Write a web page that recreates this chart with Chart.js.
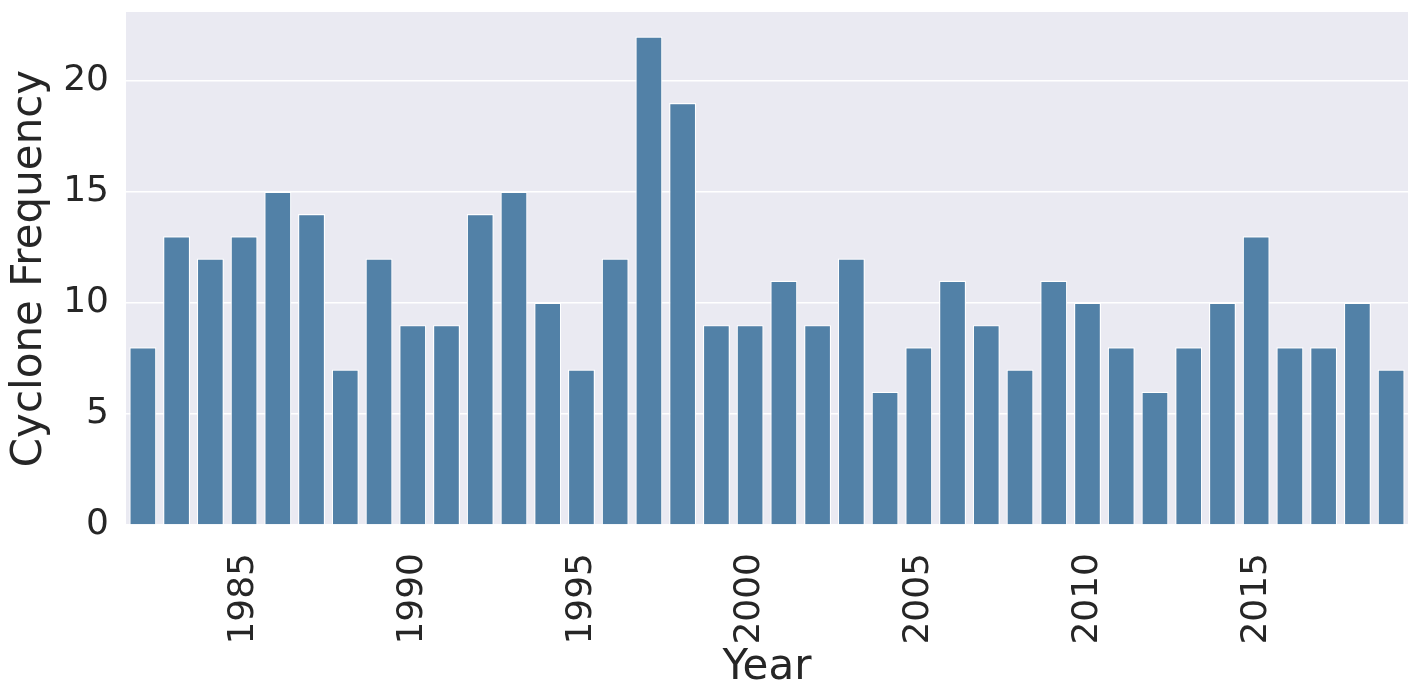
<!DOCTYPE html>
<html lang="en">
<head>
    <meta charset="UTF-8">
    <title>Cyclone Frequency by Year</title>
    <script src="https://cdn.jsdelivr.net/npm/chart.js"></script>
    <style>
        body {
            margin: 0;
            background: #ffffff;
        }
        #wrap {
            width: 1420px;
            height: 700px;
        }
    </style>
</head>
<body>
    <div id="wrap"><canvas id="barChart"></canvas></div>

    <script>
        // data
        const years = [1982, 1983, 1984, 1985, 1986, 1987, 1988, 1989, 1990, 1991,
                       1992, 1993, 1994, 1995, 1996, 1997, 1998, 1999, 2000, 2001,
                       2002, 2003, 2004, 2005, 2006, 2007, 2008, 2009, 2010, 2011,
                       2012, 2013, 2014, 2015, 2016, 2017, 2018, 2019];
        const cyclones = [8, 13, 12, 13, 15, 14, 7, 12, 9, 9,
                          14, 15, 10, 7, 12, 22, 19, 9, 9, 11,
                          9, 12, 6, 8, 11, 9, 7, 11, 10, 8,
                          6, 8, 10, 13, 8, 8, 10, 7];
        const yTicks = [0, 5, 10, 15, 20];

        const textColor = '#262626';
        const fontFamily = "'DejaVu Sans', sans-serif";

        // seaborn darkgrid style plot background
        const plotBg = {
            id: 'plotBg',
            beforeDraw(chart) {
                const { ctx, chartArea: a } = chart;
                ctx.save();
                ctx.fillStyle = '#eaeaf2';
                ctx.fillRect(a.left, a.top, a.right - a.left, a.bottom - a.top);
                ctx.restore();
            }
        };

        // drop the extra room chart.js keeps for the end labels
        function noPad(s) {
            s.paddingTop = 0;
            s.paddingBottom = 0;
            s.paddingLeft = 0;
            s.paddingRight = 0;
        }

        const ctx = document.getElementById('barChart').getContext('2d');
        new Chart(ctx, {
            type: 'bar',
            data: {
                labels: years,
                datasets: [{
                    label: 'Cyclone Frequency',
                    data: cyclones,
                    backgroundColor: '#5281a7',
                    borderColor: '#ffffff',
                    borderWidth: 1.2,
                    barPercentage: 0.8,
                    categoryPercentage: 1.0
                }]
            },
            options: {
                responsive: true,
                maintainAspectRatio: false,
                animation: false,
                layout: { padding: { top: 12, right: 12, left: 0, bottom: 0 } },
                plugins: {
                    legend: { display: false },
                    tooltip: { enabled: false }
                },
                scales: {
                    x: {
                        grid: { display: false },
                        border: { display: false },
                        ticks: {
                            autoSkip: false,
                            minRotation: 90,
                            maxRotation: 90,
                            padding: 20,
                            color: textColor,
                            font: { family: fontFamily, size: 36 },
                            callback: (val, i) => years[i] % 5 === 0 ? String(years[i]) : ''
                        },
                        title: {
                            display: true,
                            text: 'Year',
                            color: textColor,
                            font: { family: fontFamily, size: 42 },
                            padding: { top: 0, bottom: 7 }
                        },
                        afterFit: s => { s.height = 175; noPad(s); }
                    },
                    y: {
                        min: 0,
                        max: 23.1,
                        grid: {
                            color: '#ffffff',
                            lineWidth: 1.5,
                            drawTicks: false
                        },
                        border: { display: false },
                        afterBuildTicks: s => {
                            s.ticks = yTicks.map(v => ({ value: v }));
                        },
                        ticks: {
                            padding: 17,
                            color: textColor,
                            font: { family: fontFamily, size: 36 }
                        },
                        title: {
                            display: true,
                            text: 'Cyclone Frequency',
                            color: textColor,
                            font: { family: fontFamily, size: 42 },
                            padding: { top: 5, bottom: 0 }
                        },
                        afterFit: s => { s.width = 126; noPad(s); }
                    }
                }
            },
            plugins: [plotBg]
        });
    </script>
</body>
</html>
